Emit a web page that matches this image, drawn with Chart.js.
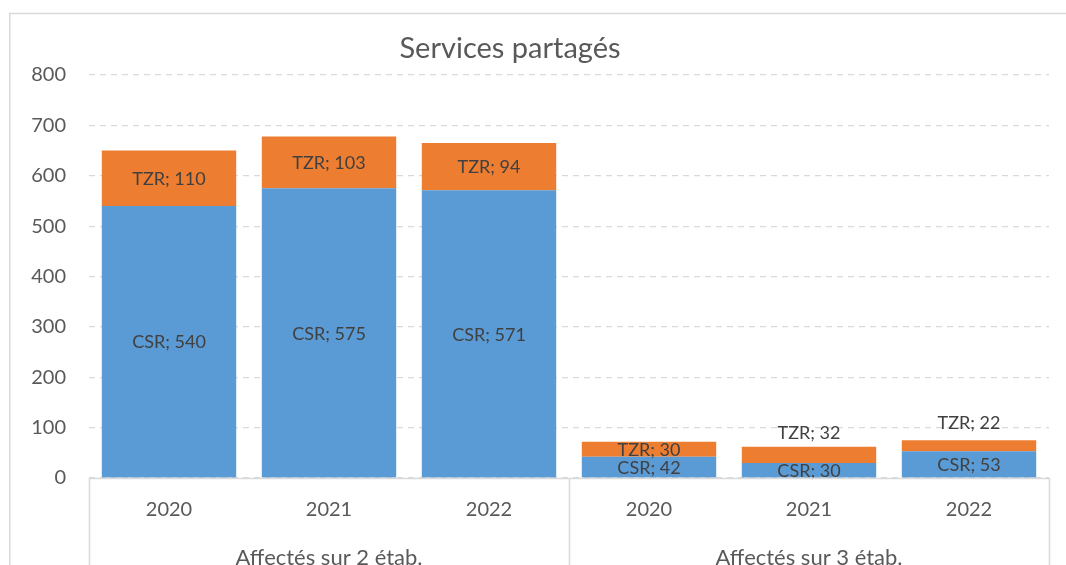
<!DOCTYPE html>
<html><head><meta charset="utf-8">
<script src="https://cdn.jsdelivr.net/npm/chart.js@4/dist/chart.umd.min.js"></script>
<style>html,body{margin:0;padding:0;background:#fff;} canvas{display:block;}</style>
</head><body>
<canvas id="c" width="1066" height="565"></canvas>
<script>
const chartTitle = 'Services partagés';
const years = ['2020', '2021', '2022', '2020', '2021', '2022'];
const groups = ['Affectés sur 2 étab.', 'Affectés sur 3 étab.'];
const groupSize = 3;
const csrValues = [540, 575, 571, 42, 30, 53];
const tzrValues = [110, 103, 94, 30, 32, 22];
const yMin = 0, yMax = 800, yStep = 100;

const FONT = 'Lato';
const TEXT = '#595959';
const LINE = '#d9d9d9';

const labelPlugin = {
  id: 'barLabels',
  afterDatasetsDraw(chart) {
    const ctx = chart.ctx;
    ctx.save();
    ctx.font = '18px ' + FONT;
    ctx.fillStyle = '#404040';
    ctx.textAlign = 'center';
    ctx.textBaseline = 'middle';
    chart.data.datasets.forEach((ds, di) => {
      const meta = chart.getDatasetMeta(di);
      meta.data.forEach((bar, i) => {
        const text = ds.label + '; ' + ds.data[i];
        let y = (bar.y + bar.base) / 2;
        const lift = ds.labelLift ? ds.labelLift[i] : 0;
        if (lift) y = bar.y - lift;
        ctx.fillText(text, bar.x, y + 1);
      });
    });
    ctx.restore();
  }
};

const framePlugin = {
  id: 'frame',
  afterDraw(chart) {
    const ctx = chart.ctx;
    const area = chart.chartArea;
    const xs = chart.scales.x;
    ctx.save();
    ctx.strokeStyle = LINE;
    ctx.lineWidth = 1.5;
    ctx.beginPath();
    ctx.moveTo(9.75, 565);
    ctx.lineTo(9.75, 13.5);
    ctx.lineTo(1066, 13.5);
    ctx.stroke();
    ctx.beginPath();
    ctx.moveTo(area.left, area.bottom + 0.5);
    ctx.lineTo(area.right, area.bottom + 0.5);
    ctx.stroke();
    const sepXs = [area.left];
    for (let g = 1; g < groups.length; g++) {
      const a = xs.getPixelForValue(g * groupSize - 1);
      const b = xs.getPixelForValue(g * groupSize);
      sepXs.push((a + b) / 2);
    }
    sepXs.push(area.right);
    ctx.beginPath();
    sepXs.forEach(x => {
      ctx.moveTo(Math.round(x) + 0.5, area.bottom);
      ctx.lineTo(Math.round(x) + 0.5, 565);
    });
    ctx.stroke();
    ctx.fillStyle = TEXT;
    ctx.font = '22px ' + FONT;
    ctx.textAlign = 'center';
    ctx.textBaseline = 'alphabetic';
    groups.forEach((g, gi) => {
      const cx = (sepXs[gi] + sepXs[gi + 1]) / 2;
      ctx.fillText(g, cx, 565);
    });
    ctx.font = '29px ' + FONT;
    ctx.fillText(chartTitle, 510, 58);
    ctx.restore();
  }
};

new Chart(document.getElementById('c'), {
  type: 'bar',
  data: {
    labels: years,
    datasets: [
      { label: 'CSR', data: csrValues, backgroundColor: '#5B9BD5', borderWidth: 0 },
      { label: 'TZR', data: tzrValues, backgroundColor: '#ED7D31', borderWidth: 0,
        labelLift: [0, 0, 0, 0, 15, 18] }
    ]
  },
  options: {
    responsive: false,
    animation: false,
    devicePixelRatio: 1,
    layout: { padding: { top: 75, right: 17, bottom: 0, left: 0 } },
    datasets: { bar: { categoryPercentage: 1, barPercentage: 0.84 } },
    plugins: { legend: { display: false }, tooltip: { enabled: false }, title: { display: false } },
    scales: {
      x: {
        stacked: true,
        grid: { display: false },
        border: { display: false },
        ticks: { color: TEXT, font: { family: FONT, size: 20 }, padding: 12 },
        afterFit(scale) { scale.height = 87; }
      },
      y: {
        stacked: true,
        min: yMin, max: yMax,
        grid: { color: LINE, lineWidth: 1.25, drawTicks: false },
        border: { display: false, dash: [6, 5] },
        ticks: { stepSize: yStep, color: TEXT, font: { family: FONT, size: 20 }, padding: 23 },
        afterFit(scale) { scale.width = 89; }
      }
    }
  },
  plugins: [labelPlugin, framePlugin]
});
</script>
</body></html>
